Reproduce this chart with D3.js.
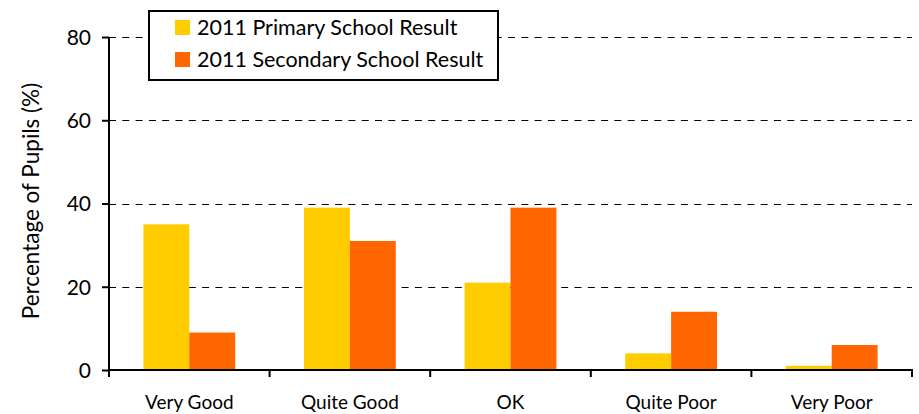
<!DOCTYPE html>
<html><head><meta charset="utf-8">
<script src="https://cdn.jsdelivr.net/npm/d3@7"></script>
<style>body{margin:0;background:#fff}text{font-family:Lato,"Open Sans",sans-serif;fill:#000}</style>
</head><body><svg id="c" width="919" height="414"></svg>
<script>
const categories = ["Very Good","Quite Good","OK","Quite Poor","Very Poor"];
const seriesNames = ["2011 Primary School Result","2011 Secondary School Result"];
const primary = [35,39,21,4,1];
const secondary = [9,31,39,14,6];
const yTicks = [0,20,40,60,80];
const colors = ["#FFCC00","#FF6600"];

const svg = d3.select("#c");
const m = {l:109, r:912, t:37, b:370};
const x = d3.scaleBand().domain(categories).range([m.l,m.r]).paddingInner(0).paddingOuter(0);
const x1 = d3.scaleBand().domain([0,1]).range([0,x.bandwidth()]).paddingInner(0).paddingOuter(0.75);
const y = d3.scaleLinear().domain([0,80]).range([m.b,m.t]);

// gridlines
svg.append("g").selectAll("line").data(yTicks.filter(d=>d>0)).join("line")
  .attr("x1",m.l).attr("x2",m.r).attr("y1",d=>Math.round(y(d))+0.5).attr("y2",d=>Math.round(y(d))+0.5)
  .attr("stroke","#000").attr("stroke-width",1).attr("stroke-dasharray","7,6.3");

// bars
const data = categories.map((c,i)=>({c, v:[primary[i],secondary[i]]}));
const g = svg.append("g").selectAll("g").data(data).join("g").attr("transform",d=>`translate(${x(d.c)},0)`);
g.selectAll("rect").data(d=>d.v.map((v,k)=>({v,k}))).join("rect")
  .attr("x",d=>x1(d.k)).attr("width",x1.bandwidth())
  .attr("y",d=>y(d.v)).attr("height",d=>y(0)-y(d.v)).attr("fill",d=>colors[d.k]);

// y axis
const ya = svg.append("g").attr("transform",`translate(${m.l},0)`)
  .call(d3.axisLeft(y).tickValues(yTicks).tickSize(7).tickPadding(11));
ya.select(".domain").remove();
ya.selectAll(".tick line").attr("stroke","#000").attr("stroke-width",2);
ya.selectAll("text").style("font-size","21px").attr("dy","0.35em");
svg.append("line").attr("x1",m.l).attr("x2",m.l).attr("y1",m.t).attr("y2",m.b+7).attr("stroke","#000").attr("stroke-width",2);

// x axis
svg.append("line").attr("x1",m.l).attr("x2",m.r+1).attr("y1",m.b).attr("y2",m.b).attr("stroke","#000").attr("stroke-width",2);
const bounds = categories.map(c=>x(c)+x.bandwidth());
svg.append("g").selectAll("line").data(bounds).join("line")
  .attr("x1",d=>d).attr("x2",d=>d).attr("y1",m.b).attr("y2",m.b+7).attr("stroke","#000").attr("stroke-width",2);
svg.append("g").selectAll("text").data(categories).join("text")
  .attr("x",d=>x(d)+x.bandwidth()/2).attr("y",409).attr("text-anchor","middle")
  .style("font-size","19px").text(d=>d);

// y label
svg.append("text").attr("transform","translate(39,201) rotate(-90)").attr("text-anchor","middle")
  .style("font-size","22.5px").text("Percentage of Pupils (%)");

// legend
const lg = svg.append("g");
lg.append("rect").attr("x",149).attr("y",11).attr("width",349).attr("height",69)
  .attr("fill","#fff").attr("stroke","#000").attr("stroke-width",2);
seriesNames.forEach((n,i)=>{
  lg.append("rect").attr("x",175).attr("y",20+i*32).attr("width",15).attr("height",15).attr("fill",colors[i]);
  lg.append("text").attr("x",197).attr("y",35+i*32).style("font-size","21.5px").text(n);
});
</script></body></html>
